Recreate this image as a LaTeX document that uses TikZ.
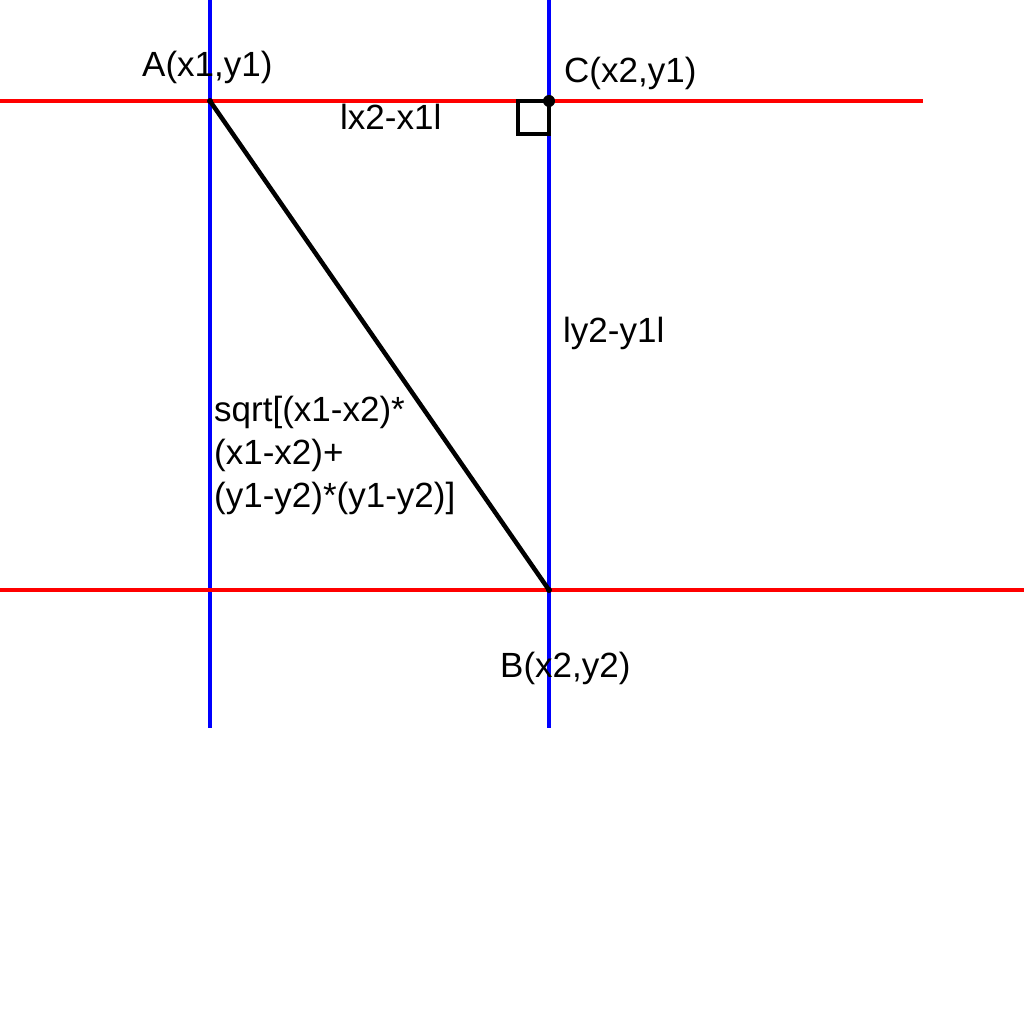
\documentclass[tikz,border=0pt]{standalone}
\usepackage{fontspec}
\setmainfont{Liberation Sans}
\usepackage{tikz}
\usetikzlibrary{positioning}
\definecolor{axBlue}{RGB}{0,0,255}
\definecolor{axRed}{RGB}{255,0,0}

\begin{document}
\begin{tikzpicture}[
  x=1pt, y=-1pt,
  vline/.style={draw=axBlue, line width=3.5pt},
  hline/.style={draw=axRed, line width=3.5pt},
  lbl/.style={anchor=base west, inner sep=0pt, font=\fontsize{35}{43}\selectfont},
]
  \useasboundingbox[fill=white] (0,0) rectangle (1024,1024);

  % points of the triangle
  \coordinate (A) at (210,101);
  \coordinate (C) at (549,101);
  \coordinate (B) at (549,590);

  % grid lines through the points
  \draw[vline] (210,0) -- (210,728);
  \draw[vline] (549,0) -- (549,728);
  \draw[hline] (0,101) -- (923,101);
  \draw[hline] (0,590) -- (1024,590);

  % hypotenuse and right angle
  \draw[line width=4.5pt] (A) -- (B);
  \draw[line width=3.5pt] (C) ++(-31,0) rectangle ++(31,33);
  \fill (C) circle (6);
  \fill (A) circle (3);
  \fill (B) circle (3);

  \node[lbl] (labA) at (142,77) {A(x1,y1)};
  \node[lbl] (labC) at (564,83) {C(x2,y1)};
  \node[lbl] (labB) at (500,677) {B(x2,y2)};
  \node[lbl] (dx) at (340,130) {lx2-x1l};
  \node[lbl] (dy) at (563,342) {ly2-y1l};
  \node[lbl, anchor=north west, align=left] (dist) at (214,396)
    {sqrt[(x1-x2)*\\(x1-x2)+\\(y1-y2)*(y1-y2)]};
\end{tikzpicture}
\end{document}
